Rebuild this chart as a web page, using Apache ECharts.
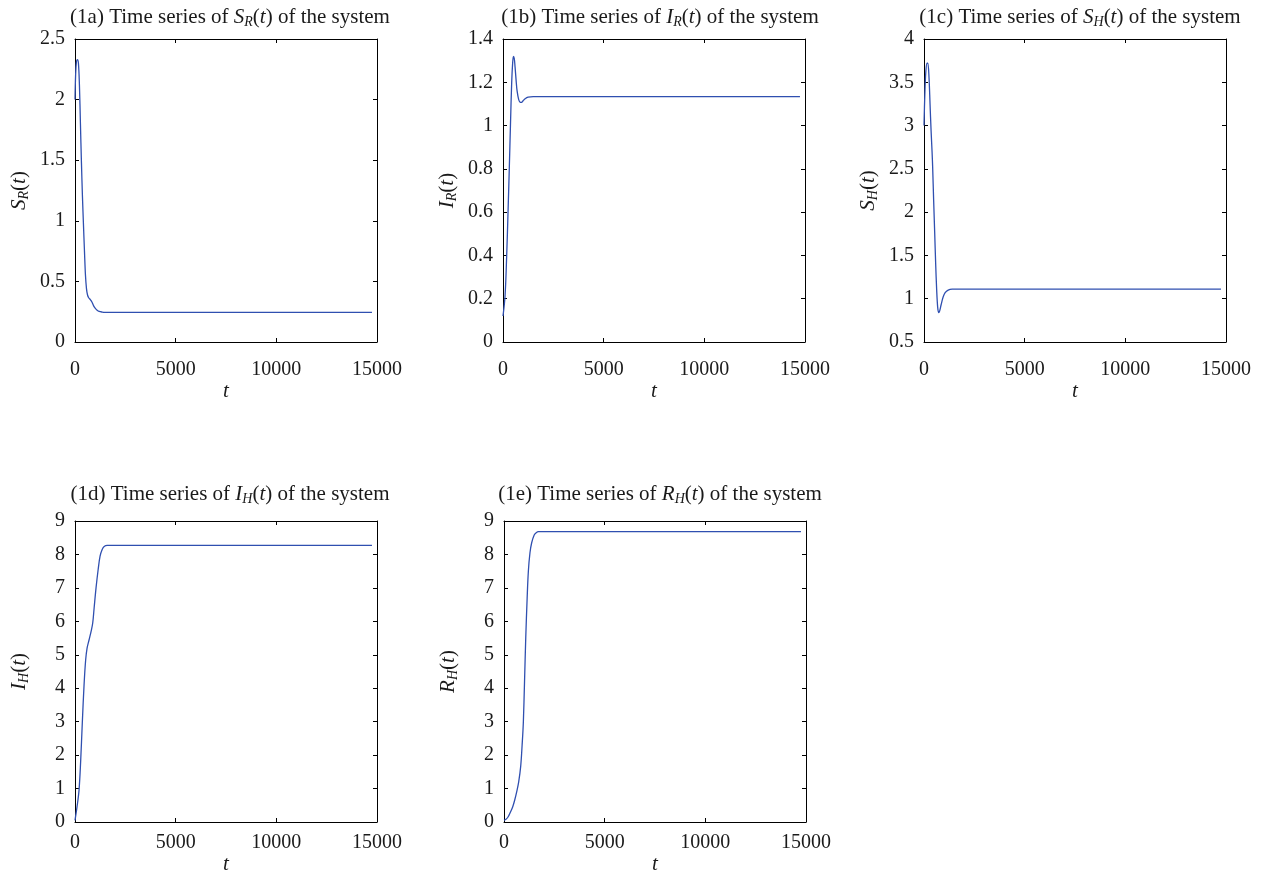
<!DOCTYPE html>
<html><head><meta charset="utf-8">
<script src="https://cdn.jsdelivr.net/npm/echarts@6.0.0/dist/echarts.min.js"></script>
<style>html,body{margin:0;padding:0;background:#fff}#c{width:1261px;height:877px}</style>
</head><body><div id="c"></div>
<script>
// ---- data ----
const xTicks = [0, 5000, 10000, 15000];
const tSR = [0, 30, 70, 120, 170, 220, 270, 320, 370, 420, 470, 520, 570, 620, 680, 760, 840, 920, 1000, 1100, 1200, 1350, 1500, 1800, 14750];
const vSR = [2.0, 2.2, 2.31, 2.33, 2.3, 2.12, 1.8, 1.48, 1.2, 0.97, 0.75, 0.55, 0.44, 0.39, 0.365, 0.35, 0.33, 0.3, 0.28, 0.262, 0.252, 0.247, 0.245, 0.245, 0.245];
const tIR = [0, 100, 180, 250, 315, 370, 430, 480, 520, 560, 600, 650, 700, 780, 850, 920, 1000, 1100, 1250, 1500, 14750];
const vIR = [0.12, 0.21, 0.39, 0.6, 0.81, 1.0, 1.195, 1.29, 1.32, 1.31, 1.27, 1.21, 1.16, 1.12, 1.108, 1.107, 1.115, 1.124, 1.131, 1.134, 1.134];
const tSH = [0, 40, 90, 150, 190, 250, 300, 350, 400, 430, 480, 530, 580, 630, 680, 730, 780, 850, 950, 1050, 1200, 1400, 14750];
const vSH = [3.0, 3.35, 3.62, 3.72, 3.72, 3.55, 3.25, 2.95, 2.7, 2.52, 2.13, 1.77, 1.4, 1.1, 0.9, 0.84, 0.86, 0.93, 1.02, 1.07, 1.1, 1.11, 1.11];
const tIH = [0, 100, 200, 280, 365, 450, 530, 600, 700, 800, 880, 950, 1045, 1150, 1245, 1350, 1450, 1600, 14750];
const vIH = [0.05, 0.45, 0.95, 1.8, 3.0, 4.1, 4.85, 5.2, 5.45, 5.7, 5.95, 6.4, 7.0, 7.55, 7.95, 8.15, 8.24, 8.27, 8.27];
const tRH = [0, 100, 200, 300, 430, 530, 630, 730, 830, 900, 960, 1020, 1080, 1150, 1210, 1290, 1375, 1500, 1600, 1710, 14750];
const vRH = [0.05, 0.08, 0.15, 0.27, 0.45, 0.65, 0.9, 1.2, 1.67, 2.3, 2.97, 4.2, 5.5, 6.7, 7.5, 8.05, 8.35, 8.58, 8.65, 8.68, 8.68];

// ---- style ----
const FONT = 'Liberation Serif';
const TXT = '#1a1a1a';
const FS = 21;   // title / axis-name font size
const LS = 20;   // tick label font size
const rich = {
  i: {fontFamily: FONT, fontStyle: 'italic', fontSize: FS, color: TXT},
  s: {fontFamily: FONT, fontStyle: 'italic', fontSize: 14, color: TXT, padding: [10, 0, 0, 0]},
  n: {fontFamily: FONT, fontSize: FS, color: TXT}
};
const panels = [
  {tag: '1a', v: 'S', sub: 'R', t: tSR, y: vSR, min: 0, max: 2.5, iv: 0.5, grid: {left: 75, top: 39, width: 302, height: 303}, tx: 225, ty: 0, lm: 18, ng: 36},
  {tag: '1b', v: 'I', sub: 'R', t: tIR, y: vIR, min: 0, max: 1.4, iv: 0.2, grid: {left: 503, top: 39, width: 302, height: 303}, tx: 655, ty: 0, lm: 18, ng: 36},
  {tag: '1c', v: 'S', sub: 'H', t: tSH, y: vSH, min: 0.5, max: 4, iv: 0.5, grid: {left: 924, top: 39, width: 302, height: 303}, tx: 1075, ty: 0, lm: 18, ng: 36},
  {tag: '1d', v: 'I', sub: 'H', t: tIH, y: vIH, min: 0, max: 9, iv: 1, grid: {left: 75, top: 521, width: 302, height: 301}, tx: 225, ty: 477, lm: 11, ng: 32},
  {tag: '1e', v: 'R', sub: 'H', t: tRH, y: vRH, min: 0, max: 9, iv: 1, grid: {left: 504, top: 521, width: 302, height: 301}, tx: 655, ty: 477, lm: 11, ng: 32}
];

const axisLine = {show: true, onZero: false, lineStyle: {color: '#000', width: 1}};
const tick = {show: true, inside: true, length: 4, lineStyle: {color: '#000'}};
const lab = {fontFamily: FONT, fontSize: LS, color: TXT};

const option = {animation: false, backgroundColor: '#fff', title: [], grid: [], xAxis: [], yAxis: [], series: []};
panels.forEach((p, k) => {
  const sym = '{i|' + p.v + '}{s|' + p.sub + '}{n|(}{i|t}{n|)}';
  option.title.push({
    text: '(' + p.tag + ') Time series of ' + sym + ' of the system',
    left: p.tx, top: p.ty, textAlign: 'center',
    textStyle: {fontFamily: FONT, fontSize: FS, fontWeight: 'normal', color: TXT, rich: rich}
  });
  option.grid.push(Object.assign({containLabel: false}, p.grid));
  option.xAxis.push({
    gridIndex: k, type: 'value', position: 'bottom', min: 0, max: 15000, interval: 5000,
    axisLine: axisLine, axisTick: tick, splitLine: {show: false},
    axisLabel: Object.assign({margin: p.lm, formatter: v => String(v)}, lab),
    name: 't', nameLocation: 'middle', nameGap: p.ng,
    nameTextStyle: {fontFamily: FONT, fontStyle: 'italic', fontSize: 21, color: TXT}
  });
  option.xAxis.push({
    gridIndex: k, type: 'value', position: 'top', min: 0, max: 15000, interval: 5000,
    axisLine: axisLine, axisTick: tick, splitLine: {show: false}, axisLabel: {show: false}
  });
  option.yAxis.push({
    gridIndex: k, type: 'value', position: 'left', min: p.min, max: p.max, interval: p.iv,
    axisLine: axisLine, axisTick: tick, splitLine: {show: false},
    axisLabel: Object.assign({margin: 10, formatter: v => String(+v.toFixed(2))}, lab),
    name: sym, nameLocation: 'middle', nameGap: 44, nameRotate: 90,
    nameTextStyle: {fontFamily: FONT, fontSize: FS, color: TXT, rich: rich}
  });
  option.yAxis.push({
    gridIndex: k, type: 'value', position: 'right', min: p.min, max: p.max, interval: p.iv,
    axisLine: axisLine, axisTick: tick, splitLine: {show: false}, axisLabel: {show: false}
  });
  option.series.push({
    type: 'line', xAxisIndex: 2 * k, yAxisIndex: 2 * k,
    data: p.t.map((t, i) => [t, p.y[i]]),
    showSymbol: false, smooth: 0.35,
    lineStyle: {color: '#2f4fb0', width: 1.3}
  });
});
const chart = echarts.init(document.getElementById('c'), null, {renderer: 'canvas'});
chart.setOption(option);
</script>
</body></html>
